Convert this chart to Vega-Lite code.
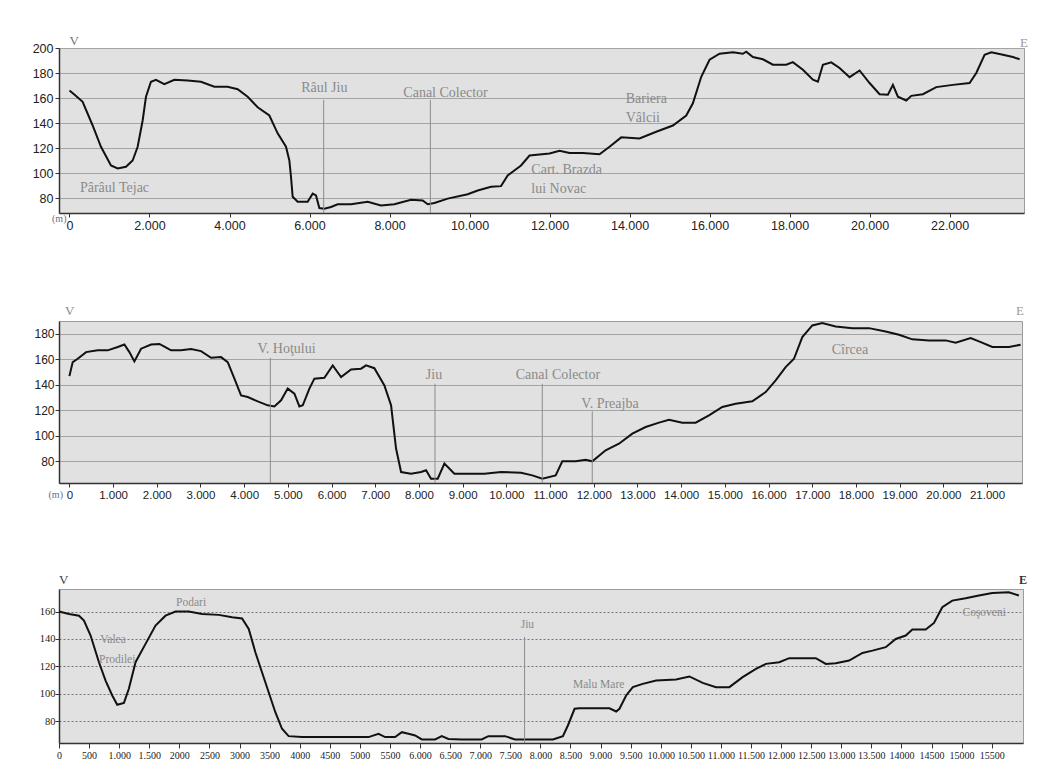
{
  "$schema": "https://vega.github.io/schema/vega-lite/v6.json",
  "background": "white",
  "padding": {"left": 31, "top": 34, "right": 5, "bottom": 5},
  "config": {
    "view": {"fill": "#e1e1e1", "stroke": "#9c9c9c", "strokeWidth": 1},
    "axis": {"labelFont": "Liberation Sans", "labelFontSize": 12, "labelColor": "#222", "domainColor": "#333", "domainWidth": 1.5, "tickColor": "#333", "grid": false, "title": null, "labelFlush": false, "labelOverlap": false},
    "text": {"font": "Liberation Serif"}
  },
  "spacing": 72,
  "vconcat": [
    {
      "width": 965, "height": 165,
      "encoding": {
        "x": {"field": "d", "type": "quantitative", "scale": {"domain": [-262, 23860], "nice": false, "zero": false},
              "axis": {"values": [0,2000,4000,6000,8000,10000,12000,14000,16000,18000,20000,22000], "labelExpr": "replace(format(datum.value, ',d'), ',', '.')", "tickSize": 4, "labelPadding": 2, "labelFontSize": 12.5}},
        "y": {"field": "e", "type": "quantitative", "scale": {"domain": [68, 200], "nice": false, "zero": false},
              "axis": {"values": [80,100,120,140,160,180,200], "grid": true, "gridColor": "#a4a4a4", "tickSize": 4, "labelPadding": 2, "labelFontSize": 12.5}}
      },
      "layer": [
        {"data": {"values": [
          {"d":0,"e":166},{"d":150,"e":162},{"d":329,"e":157},{"d":579,"e":138},{"d":787,"e":121},{"d":1037,"e":106},{"d":1204,"e":103.6},{"d":1412,"e":105},{"d":1579,"e":110},{"d":1704,"e":121},{"d":1829,"e":142},{"d":1912,"e":161},{"d":2037,"e":173},{"d":2162,"e":174.6},{"d":2371,"e":171},{"d":2621,"e":174.6},{"d":2954,"e":174},{"d":3287,"e":173},{"d":3621,"e":169},{"d":3954,"e":169},{"d":4204,"e":167},{"d":4454,"e":161},{"d":4704,"e":152.6},{"d":4996,"e":146},{"d":5204,"e":131.7},{"d":5412,"e":121},{"d":5496,"e":110},{"d":5537,"e":97},{"d":5579,"e":81},{"d":5704,"e":77},{"d":5954,"e":77},{"d":6079,"e":83.5},{"d":6162,"e":82},{"d":6246,"e":72},{"d":6371,"e":71.4},{"d":6537,"e":72.8},{"d":6704,"e":75},{"d":7037,"e":75},{"d":7454,"e":77},{"d":7787,"e":74},{"d":8121,"e":75},{"d":8537,"e":78.6},{"d":8829,"e":78},{"d":8954,"e":75},{"d":9121,"e":76},{"d":9454,"e":79.5},{"d":9954,"e":83},{"d":10204,"e":86},{"d":10537,"e":89},{"d":10787,"e":89.5},{"d":10954,"e":98},{"d":11287,"e":106},{"d":11500,"e":114},{"d":12000,"e":115.6},{"d":12250,"e":117.8},{"d":12500,"e":116},{"d":12833,"e":116},{"d":13250,"e":115},{"d":13500,"e":121},{"d":13792,"e":128.5},{"d":14250,"e":127.7},{"d":14667,"e":133},{"d":15083,"e":138},{"d":15417,"e":146},{"d":15583,"e":155.8},{"d":15792,"e":177},{"d":16000,"e":190.6},{"d":16250,"e":195.4},{"d":16583,"e":196.5},{"d":16833,"e":195.4},{"d":16917,"e":197},{"d":17083,"e":192.8},{"d":17333,"e":191},{"d":17583,"e":186.6},{"d":17917,"e":186.6},{"d":18083,"e":188.7},{"d":18333,"e":182.6},{"d":18583,"e":174.6},{"d":18708,"e":173},{"d":18833,"e":186.6},{"d":19042,"e":188.5},{"d":19250,"e":184},{"d":19500,"e":176.7},{"d":19750,"e":182},{"d":20000,"e":172},{"d":20250,"e":163},{"d":20458,"e":162.6},{"d":20583,"e":170.5},{"d":20708,"e":161},{"d":20917,"e":158},{"d":21042,"e":161.7},{"d":21333,"e":163},{"d":21667,"e":168.7},{"d":22083,"e":170.5},{"d":22500,"e":172},{"d":22667,"e":180},{"d":22875,"e":194.6},{"d":23042,"e":196.5},{"d":23333,"e":194.6},{"d":23583,"e":192.8},{"d":23750,"e":191}
        ]}, "mark": {"type": "line", "color": "#111", "strokeWidth": 2}},
        {"data": {"values": [{"d": 6354, "e": 158.5}, {"d": 9021, "e": 158.5}]},
         "mark": {"type": "rule", "color": "#8c8c8c", "strokeWidth": 1}, "encoding": {"y2": {"datum": 68}}},
        {"data": {"values": [{"d": 6370, "e": 165.2, "t": "Râul Jiu"}, {"d": 9400, "e": 161.2, "t": "Canal Colector"}]},
         "mark": {"type": "text", "color": "#8a8a8a", "fontSize": 14, "align": "center", "baseline": "alphabetic"}, "encoding": {"text": {"field": "t"}}},
        {"data": {"values": [{"d": 262, "e": 84.8, "t": "Pârâul Tejac"}, {"d": 13905, "e": 156.3, "t": "Bariera"}, {"d": 13905, "e": 140.5, "t": "Vâlcii"}, {"d": 11545, "e": 99, "t": "Cart. Brazda"}, {"d": 11545, "e": 84, "t": "lui Novac"}]},
         "mark": {"type": "text", "color": "#8a8a8a", "fontSize": 14, "align": "left", "baseline": "alphabetic"}, "encoding": {"text": {"field": "t"}}},
        {"data": {"values": [{"d": 0, "e": 200, "t": "V"}]},
         "mark": {"type": "text", "color": "#7a7070", "fontSize": 13, "align": "left", "baseline": "alphabetic", "dy": -3}, "encoding": {"text": {"field": "t"}}},
        {"data": {"values": [{"d": 23860, "e": 200, "t": "E"}]},
         "mark": {"type": "text", "color": "#9a9a9a", "fontSize": 13, "align": "center", "baseline": "alphabetic", "dy": -1}, "encoding": {"text": {"field": "t"}}},
        {"data": {"values": [{"d": 0, "e": 68, "t": "(m)"}]},
         "mark": {"type": "text", "color": "#6d6a8c", "fontSize": 10, "align": "right", "baseline": "middle", "dx": -3, "dy": 6}, "encoding": {"text": {"field": "t"}}}
      ]
    },
    {
      "width": 963, "height": 162,
      "encoding": {
        "x": {"field": "d", "type": "quantitative", "scale": {"domain": [-237, 21800], "nice": false, "zero": false},
              "axis": {"values": [0,1000,2000,3000,4000,5000,6000,7000,8000,9000,10000,11000,12000,13000,14000,15000,16000,17000,18000,19000,20000,21000], "labelExpr": "replace(format(datum.value, ',d'), ',', '.')", "tickSize": 4, "labelPadding": 2, "labelFontSize": 11.5}},
        "y": {"field": "e", "type": "quantitative", "scale": {"domain": [63, 190], "nice": false, "zero": false},
              "axis": {"values": [80,100,120,140,160,180], "grid": true, "gridColor": "#a4a4a4", "tickSize": 4, "labelPadding": 1, "labelFontSize": 12}}
      },
      "layer": [
        {"data": {"values": [
          {"d":1,"e":146.8},{"d":77,"e":157.8},{"d":191,"e":160.4},{"d":382,"e":165.6},{"d":649,"e":167},{"d":878,"e":167},{"d":1107,"e":169.6},{"d":1259,"e":171.6},{"d":1374,"e":165.6},{"d":1488,"e":158.3},{"d":1641,"e":168.3},{"d":1870,"e":171.6},{"d":2060,"e":172},{"d":2175,"e":170},{"d":2327,"e":167},{"d":2556,"e":167},{"d":2785,"e":168},{"d":3014,"e":166.4},{"d":3243,"e":161.2},{"d":3471,"e":161.7},{"d":3624,"e":157.8},{"d":3777,"e":144.8},{"d":3929,"e":131.7},{"d":4082,"e":130.4},{"d":4311,"e":127},{"d":4539,"e":123.9},{"d":4692,"e":123},{"d":4845,"e":127.8},{"d":4997,"e":137},{"d":5150,"e":133},{"d":5264,"e":123},{"d":5341,"e":123.9},{"d":5493,"e":137},{"d":5607,"e":144.8},{"d":5836,"e":145.5},{"d":6027,"e":155.2},{"d":6218,"e":146},{"d":6446,"e":152},{"d":6675,"e":152.6},{"d":6789,"e":155.2},{"d":6980,"e":153},{"d":7209,"e":139.5},{"d":7362,"e":123.9},{"d":7476,"e":90},{"d":7591,"e":71.6},{"d":7819,"e":70.3},{"d":8048,"e":71.6},{"d":8163,"e":73},{"d":8277,"e":66.4},{"d":8430,"e":66.4},{"d":8582,"e":78.2},{"d":8811,"e":70.3},{"d":9116,"e":70.3},{"d":9497,"e":70.3},{"d":9879,"e":71.6},{"d":10337,"e":71},{"d":10594,"e":69},{"d":10823,"e":66.4},{"d":11128,"e":69},{"d":11281,"e":80},{"d":11586,"e":80},{"d":11815,"e":81.3},{"d":11967,"e":80},{"d":12272,"e":88.6},{"d":12577,"e":93.8},{"d":12883,"e":101.7},{"d":13188,"e":106.9},{"d":13493,"e":110.3},{"d":13722,"e":112.6},{"d":14027,"e":110.3},{"d":14332,"e":110.3},{"d":14637,"e":116},{"d":14942,"e":122.6},{"d":15247,"e":125.2},{"d":15629,"e":127},{"d":15934,"e":134.3},{"d":16163,"e":143.4},{"d":16391,"e":153.9},{"d":16582,"e":160.4},{"d":16773,"e":177.4},{"d":17002,"e":186.5},{"d":17230,"e":188.4},{"d":17535,"e":185.7},{"d":17917,"e":184.4},{"d":18298,"e":184.4},{"d":18680,"e":181.8},{"d":18985,"e":179.2},{"d":19290,"e":175.6},{"d":19671,"e":174.8},{"d":20053,"e":174.8},{"d":20281,"e":173},{"d":20625,"e":176.6},{"d":20816,"e":174},{"d":21121,"e":169.6},{"d":21503,"e":169.6},{"d":21769,"e":171.4}
        ]}, "mark": {"type": "line", "color": "#111", "strokeWidth": 2}},
        {"data": {"values": [{"d": 4599, "e": 161.2}, {"d": 8367, "e": 140.8}, {"d": 10822, "e": 140.8}, {"d": 11966, "e": 119.2}]},
         "mark": {"type": "rule", "color": "#8c8c8c", "strokeWidth": 1}, "encoding": {"y2": {"datum": 63}}},
        {"data": {"values": [{"d": 4970, "e": 165, "t": "V. Hoţului"}, {"d": 8344, "e": 144.8, "t": "Jiu"}, {"d": 11181, "e": 144.8, "t": "Canal Colector"}, {"d": 12371, "e": 122, "t": "V. Preajba"}, {"d": 17863, "e": 163.8, "t": "Cîrcea"}]},
         "mark": {"type": "text", "color": "#8a8a8a", "fontSize": 14, "align": "center", "baseline": "alphabetic"}, "encoding": {"text": {"field": "t"}}},
        {"data": {"values": [{"d": -100, "e": 190, "t": "V"}]},
         "mark": {"type": "text", "color": "#8a8a8a", "fontSize": 13, "align": "left", "baseline": "alphabetic", "dy": -6}, "encoding": {"text": {"field": "t"}}},
        {"data": {"values": [{"d": 21800, "e": 190, "t": "E"}]},
         "mark": {"type": "text", "color": "#9a9a9a", "fontSize": 13, "align": "center", "baseline": "alphabetic", "dx": -2, "dy": -6}, "encoding": {"text": {"field": "t"}}},
        {"data": {"values": [{"d": -100, "e": 63, "t": "(m)"}]},
         "mark": {"type": "text", "color": "#6d6a8c", "fontSize": 10, "align": "right", "baseline": "middle", "dx": -2, "dy": 12}, "encoding": {"text": {"field": "t"}}}
      ]
    },
    {
      "width": 964, "height": 154,
      "encoding": {
        "x": {"field": "d", "type": "quantitative", "scale": {"domain": [0, 16020], "nice": false, "zero": false},
              "axis": {"values": [0,500,1000,1500,2000,2500,3000,3500,4000,4500,5000,5500,6000,6500,7000,7500,8000,8500,9000,9500,10000,10500,11000,11500,12000,12500,13000,13500,14000,14500,15000,15500],
                       "labelExpr": "(datum.value >= 2000 && datum.value <= 5500) || datum.value >= 14000 ? format(datum.value, 'd') : replace(format(datum.value, ',d'), ',', '.')",
                       "tickSize": 5, "labelPadding": 2, "labelFont": "Liberation Sans Narrow", "labelFontSize": 10}},
        "y": {"field": "e", "type": "quantitative", "scale": {"domain": [64, 176.5], "nice": false, "zero": false},
              "axis": {"values": [80,100,120,140,160], "grid": true, "gridColor": "#777", "gridDash": [2, 2], "tickSize": 4, "labelPadding": 0, "labelFont": "Liberation Sans Narrow", "labelFontSize": 10.5}}
      },
      "layer": [
        {"data": {"values": [
          {"d":0,"e":160},{"d":166,"e":158.3},{"d":332,"e":157},{"d":415,"e":153.4},{"d":525,"e":142.5},{"d":664,"e":123},{"d":774,"e":109.6},{"d":885,"e":98.7},{"d":968,"e":91.9},{"d":1079,"e":93.3},{"d":1161,"e":103.6},{"d":1272,"e":123},{"d":1438,"e":136.4},{"d":1604,"e":149.8},{"d":1770,"e":157},{"d":1936,"e":160},{"d":2157,"e":160},{"d":2378,"e":158.3},{"d":2655,"e":157.6},{"d":2876,"e":155.9},{"d":3042,"e":155},{"d":3153,"e":147.3},{"d":3263,"e":130.3},{"d":3429,"e":108.4},{"d":3595,"e":86.5},{"d":3706,"e":74.4},{"d":3816,"e":69},{"d":4038,"e":68.3},{"d":4591,"e":68.3},{"d":5144,"e":68.3},{"d":5310,"e":70.7},{"d":5420,"e":68.3},{"d":5586,"e":68.3},{"d":5697,"e":71.9},{"d":5808,"e":70.7},{"d":5918,"e":69.5},{"d":6029,"e":66.6},{"d":6250,"e":66.6},{"d":6361,"e":69},{"d":6471,"e":67},{"d":6692,"e":66.6},{"d":7024,"e":66.6},{"d":7135,"e":69},{"d":7412,"e":69},{"d":7578,"e":66.6},{"d":8208,"e":66.6},{"d":8374,"e":69},{"d":8457,"e":76.8},{"d":8568,"e":89},{"d":8650,"e":89.4},{"d":8872,"e":89.4},{"d":9148,"e":89.4},{"d":9259,"e":87},{"d":9314,"e":89},{"d":9425,"e":98.7},{"d":9536,"e":104.8},{"d":9701,"e":107.2},{"d":9923,"e":109.6},{"d":10254,"e":110.4},{"d":10476,"e":112.6},{"d":10697,"e":107.9},{"d":10918,"e":104.8},{"d":11140,"e":104.8},{"d":11361,"e":112.1},{"d":11582,"e":118.2},{"d":11748,"e":121.8},{"d":11969,"e":123},{"d":12135,"e":126},{"d":12356,"e":126},{"d":12577,"e":126},{"d":12743,"e":121.8},{"d":12909,"e":122.3},{"d":13130,"e":124.2},{"d":13352,"e":129.8},{"d":13518,"e":131.5},{"d":13739,"e":134},{"d":13905,"e":140},{"d":14071,"e":142.5},{"d":14181,"e":146.9},{"d":14403,"e":146.9},{"d":14541,"e":151.7},{"d":14679,"e":163.2},{"d":14845,"e":168},{"d":15066,"e":169.7},{"d":15288,"e":171.7},{"d":15509,"e":173.6},{"d":15785,"e":174.1},{"d":15951,"e":171.7}
        ]}, "mark": {"type": "line", "color": "#111", "strokeWidth": 2}},
        {"data": {"values": [{"d": 7737, "e": 141.5}]},
         "mark": {"type": "rule", "color": "#8c8c8c", "strokeWidth": 1}, "encoding": {"y2": {"datum": 64}}},
        {"data": {"values": [{"d": 7784, "e": 148, "t": "Jiu"}, {"d": 898, "e": 137, "t": "Valea"}, {"d": 967, "e": 122.3, "t": "Prodilei"}, {"d": 2195, "e": 164, "t": "Podari"}, {"d": 8968, "e": 104, "t": "Malu Mare"}, {"d": 15375, "e": 157, "t": "Coşoveni"}]},
         "mark": {"type": "text", "color": "#8a8a8a", "fontSize": 11.5, "align": "center", "baseline": "alphabetic"}, "encoding": {"text": {"field": "t"}}},
        {"data": {"values": [{"d": 0, "e": 176.5, "t": "V"}]},
         "mark": {"type": "text", "color": "#444", "fontSize": 13, "align": "left", "baseline": "alphabetic", "dy": -5}, "encoding": {"text": {"field": "t"}}},
        {"data": {"values": [{"d": 16020, "e": 176.5, "t": "E"}]},
         "mark": {"type": "text", "color": "#333", "fontSize": 12, "fontWeight": "bold", "align": "center", "baseline": "alphabetic", "dy": -5}, "encoding": {"text": {"field": "t"}}}
      ]
    }
  ]
}
